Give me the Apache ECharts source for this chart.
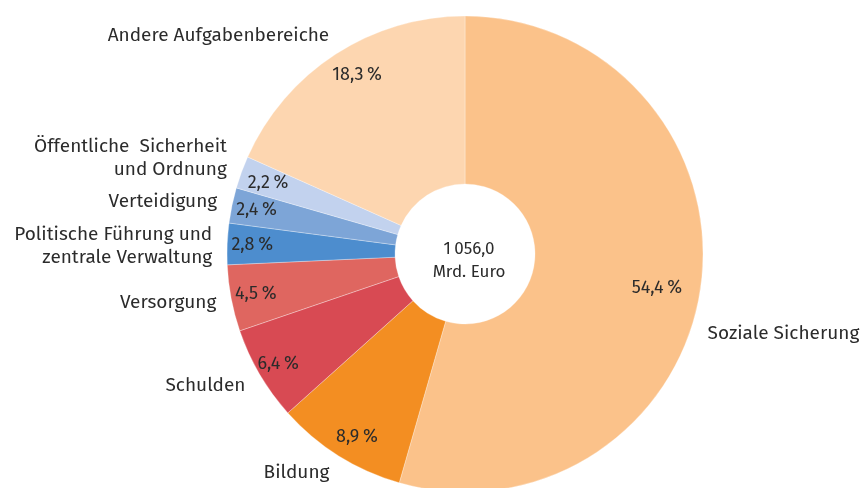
<!DOCTYPE html>
<html>
<head>
<meta charset="utf-8">
<script src="https://cdn.jsdelivr.net/npm/echarts@6/dist/echarts.min.js"></script>
<style>
  html, body { margin: 0; padding: 0; background: #fff; }
  #main { width: 866px; height: 488px; }
</style>
</head>
<body>
<div id="main"></div>
<script>
// Ausgaben nach Aufgabenbereichen, Anteile in %
var categories = [
  'Soziale Sicherung',
  'Bildung',
  'Schulden',
  'Versorgung',
  'Politische Führung und\nzentrale Verwaltung',
  'Verteidigung',
  'Öffentliche  Sicherheit\nund Ordnung',
  'Andere Aufgabenbereiche'
];
var shares = [54.4, 8.9, 6.4, 4.5, 2.8, 2.4, 2.2, 18.3];
var colors = ['#fbc28a', '#f38e22', '#d84a53', '#df6660', '#4d8dce', '#7da5d7', '#c2d2ee', '#fdd6b0'];
var totalText = '1\u2009056,0';
var unitText = 'Mrd. Euro';

// kleine Verschiebungen der Beschriftungen
var nameShift = [[-8, 46], [3, 12], [0, 8], [0, 3], [0, 3], [0, -2], [0, -12], [6, -14]];
var pctShift = [[-19, 4], [5, 2], [-3, 2], [0, 0], [0, 0], [0, 0], [3, 2], [8, 0]];

var font = '"Fira Sans", "Open Sans", "Noto Sans", sans-serif';
var chart = echarts.init(document.getElementById('main'));

var data = categories.map(function (name, i) {
  return { name: name, value: shares[i], itemStyle: { color: colors[i] } };
});
var ghost = categories.map(function (name, i) {
  return { name: name, value: shares[i] };
});

function pct(v) {
  return v.toFixed(1).replace('.', ',') + '\u2009%';
}

var option = {
  animation: false,
  title: {
    text: totalText + '\n' + unitText,
    left: 464,
    top: 233,
    textAlign: 'center',
    textStyle: { fontFamily: font, fontSize: 17, fontWeight: 'normal', color: '#2b2b2b', lineHeight: 23 }
  },
  series: [
    {
      // Ring
      type: 'pie',
      center: [465, 254],
      radius: [70, 238],
      startAngle: 90,
      clockwise: true,
      silent: true,
      label: { show: false },
      labelLine: { show: false },
      itemStyle: { borderColor: 'rgba(255,255,255,0.5)', borderWidth: 0.6 },
      data: data
    },
    {
      // Prozentwerte
      type: 'pie',
      center: [465, 254],
      radius: [182, 238],
      startAngle: 90,
      clockwise: true,
      silent: true,
      itemStyle: { color: 'rgba(0,0,0,0)' },
      label: {
        show: true,
        position: 'inside',
        fontFamily: font,
        fontSize: 18,
        color: '#2b2b2b',
        formatter: function (p) { return pct(p.value); }
      },
      labelLine: { show: false },
      labelLayout: function (p) {
        var s = pctShift[p.dataIndex];
        return { dx: s[0], dy: s[1] };
      },
      data: ghost
    },
    {
      // Namen
      type: 'pie',
      center: [465, 254],
      radius: [70, 238],
      startAngle: 90,
      clockwise: true,
      silent: true,
      avoidLabelOverlap: false,
      itemStyle: { color: 'rgba(0,0,0,0)' },
      label: {
        show: true,
        position: 'outside',
        fontFamily: font,
        fontSize: 19,
        lineHeight: 23,
        color: '#2b2b2b',
        formatter: '{b}'
      },
      labelLine: { show: false, length: 6, length2: 4 },
      labelLayout: function (p) {
        var s = nameShift[p.dataIndex];
        return { dx: s[0], dy: s[1] };
      },
      data: ghost
    }
  ]
};
chart.setOption(option);
</script>
</body>
</html>
